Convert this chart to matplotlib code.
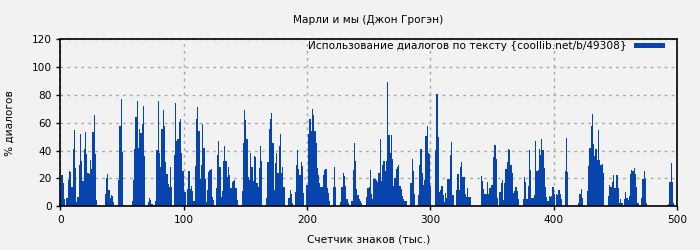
import matplotlib
matplotlib.use("Agg")
import matplotlib.pyplot as plt
import numpy as np

title = "Марли и мы (Джон Грогэн)"
xlabel = "Счетчик знаков (тыс.)"
ylabel = "% диалогов"
legend_label = "Использование диалогов по тексту {coollib.net/b/49308}"
xticks = [0, 100, 200, 300, 400, 500]
yticks = [0, 20, 40, 60, 80, 100, 120]

values_000_099 = [
    11, 22.5, 17, 5.5, 0, 6, 19, 25, 24.7, 14,
    41, 55, 27.5, 3, 7, 30, 52, 32.5, 18, 41,
    53, 37.6, 24, 23, 33, 27, 53, 65.6, 37.6, 4.5,
    0, 0, 0, 0, 0, 0, 9, 20, 23, 12,
    6, 8, 7.5, 3, 0, 0, 0, 19, 58, 77,
    39, 1, 0, 0, 0, 0, 0, 0, 4, 19,
    41, 64, 75.7, 42, 55.6, 52.7, 59, 72, 36, 0,
    0, 3, 6, 4.5, 1.7, 0, 1, 4, 40.5, 75.7,
    38, 28, 55.6, 69, 57.7, 32, 23, 16, 14, 28,
    14, 0, 37, 74, 47, 48, 60.6, 62.8, 38, 25,
]
values_100_199 = [
    10, 10, 0, 12.5, 25, 12.5, 14.6, 11, 4, 29,
    62.8, 71.4, 54, 19.6, 30, 59, 42, 19.6, 3, 11.7,
    24.7, 26, 27, 6.7, 4.5, 0, 13, 37, 47, 28,
    6.7, 11, 32.6, 43, 32.6, 21, 28, 22.5, 13, 17.5,
    18, 19, 13, 4.5, 0, 0, 0, 11, 45.5, 69,
    62, 48, 21, 19, 38, 28, 18, 36, 35.5, 17,
    14, 27.5, 43, 32.6, 0, 0, 0, 6, 32, 55.6,
    62.8, 67, 45.5, 11.7, 31, 38, 24, 43, 52, 24,
    28, 14, 0, 0, 0, 6, 11.7, 9, 2.4, 0,
    10, 30, 40.5, 27, 22.5, 32, 29, 9.6, 0, 15,
]
values_200_299 = [
    15, 52, 62.8, 54, 70, 65.6, 54, 45.5, 27.5, 22.5,
    17, 14, 14, 22.5, 26, 27, 13, 9.6, 4, 0,
    0, 14, 28, 14, 0, 0, 0, 3, 14, 24,
    22, 14.6, 5, 2.4, 0, 0, 4, 26, 45.5, 32.6,
    12.5, 8, 5, 4, 2.4, 0, 0, 1, 6.7, 13,
    14, 26, 9, 5, 19.6, 19.6, 19, 17.5, 24, 48,
    18, 30, 32.6, 25, 32.6, 89, 51, 38, 51, 34,
    14.6, 20, 27, 28, 30, 14.6, 12.5, 7.4, 5, 4,
    4, 0, 0, 0, 17, 34, 25, 9, 0, 0,
    8, 30, 41, 24, 15, 19, 50.5, 57.7, 38, 37.6,
]
values_300_399 = [
    14.6, 0, 0, 0, 40.5, 81, 50, 10, 11.7, 14.6,
    8, 3, 9.6, 6, 19.6, 19.6, 37, 46, 8, 0,
    0, 11.7, 23, 11.7, 28, 32, 21, 21, 9, 6.7,
    13, 6.7, 6.7, 0, 0, 0, 0, 0, 0, 0,
    0, 22, 18, 12.5, 9, 9, 17.5, 9, 13, 15,
    15, 35.5, 44, 34, 6, 0, 10, 17, 19, 4.5,
    17, 27, 32, 41, 40.5, 30, 24, 9.6, 11, 14,
    11, 5, 0, 0, 0, 5, 21, 17.5, 5, 14.6,
    40.5, 26, 6, 6, 8, 47, 25, 26, 41, 37,
    48, 40.5, 27.5, 14, 6.7, 4, 7.4, 6.7, 7.4, 14,
]
values_400_497 = [
    9, 0, 9, 8, 11.7, 9, 5, 0, 0, 25,
    49, 24.7, 0, 0, 0, 0, 0, 0, 0, 0,
    2, 9, 12.5, 6, 0, 0, 0, 11, 29, 42,
    57.7, 66, 45, 36, 41, 33, 55, 33, 30, 30.4,
    24, 0, 0, 0, 7.4, 15, 14, 17.5, 22.5, 13,
    13, 22.5, 13, 2.4, 5, 2.4, 0, 5, 10, 6,
    4.5, 7.4, 23, 26, 25, 27.5, 23, 14, 2.4, 0,
    0, 6, 19.6, 25, 19.6, 2.4, 0, 0, 0, 0,
    0, 0, 0, 0, 0, 0, 0, 0, 0, 0,
    0, 0, 1, 1.7, 17.5, 31, 17.5, 2.4,
]

values = (values_000_099 + values_100_199 + values_200_299
          + values_300_399 + values_400_497)
positions = np.arange(len(values))

bg = "#f2f2f2"
bar_color = "#0844ad"
fs = 7.6

plt.rcParams["font.family"] = ["DejaVu Sans"]
fig = plt.figure(figsize=(7, 2.5), dpi=100, facecolor=bg)
ax = fig.add_axes([0.086, 0.175, 0.881, 0.668])
ax.set_facecolor(bg)

ax.bar(positions, values, width=1.0, align="edge", color=bar_color,
       linewidth=0, label=legend_label, zorder=2)

ax.set_xlim(0, 500)
ax.set_ylim(0, 120)
ax.set_xticks(xticks)
ax.set_yticks(yticks)
ax.tick_params(axis="both", labelsize=fs, length=3, width=1, color="black",
               direction="out", pad=3)
for s in ax.spines.values():
    s.set_linewidth(1.2)
    s.set_color("black")

ax.grid(True, color="#a8a8a8", linestyle=(0, (2, 3)), linewidth=1.0, zorder=1)
ax.set_axisbelow(True)

ax.set_title(title, fontsize=fs, pad=12)
ax.set_xlabel(xlabel, fontsize=fs, labelpad=7)
ax.set_ylabel(ylabel, fontsize=fs, labelpad=12)

leg = ax.legend(loc="upper right", bbox_to_anchor=(0.984, 1.0),
                fontsize=fs, frameon=False,
                markerfirst=False, handlelength=2.9, handleheight=0.4,
                borderaxespad=0.0, borderpad=0.2, handletextpad=0.75)

fig.savefig("out.png", dpi=100, facecolor=bg)
